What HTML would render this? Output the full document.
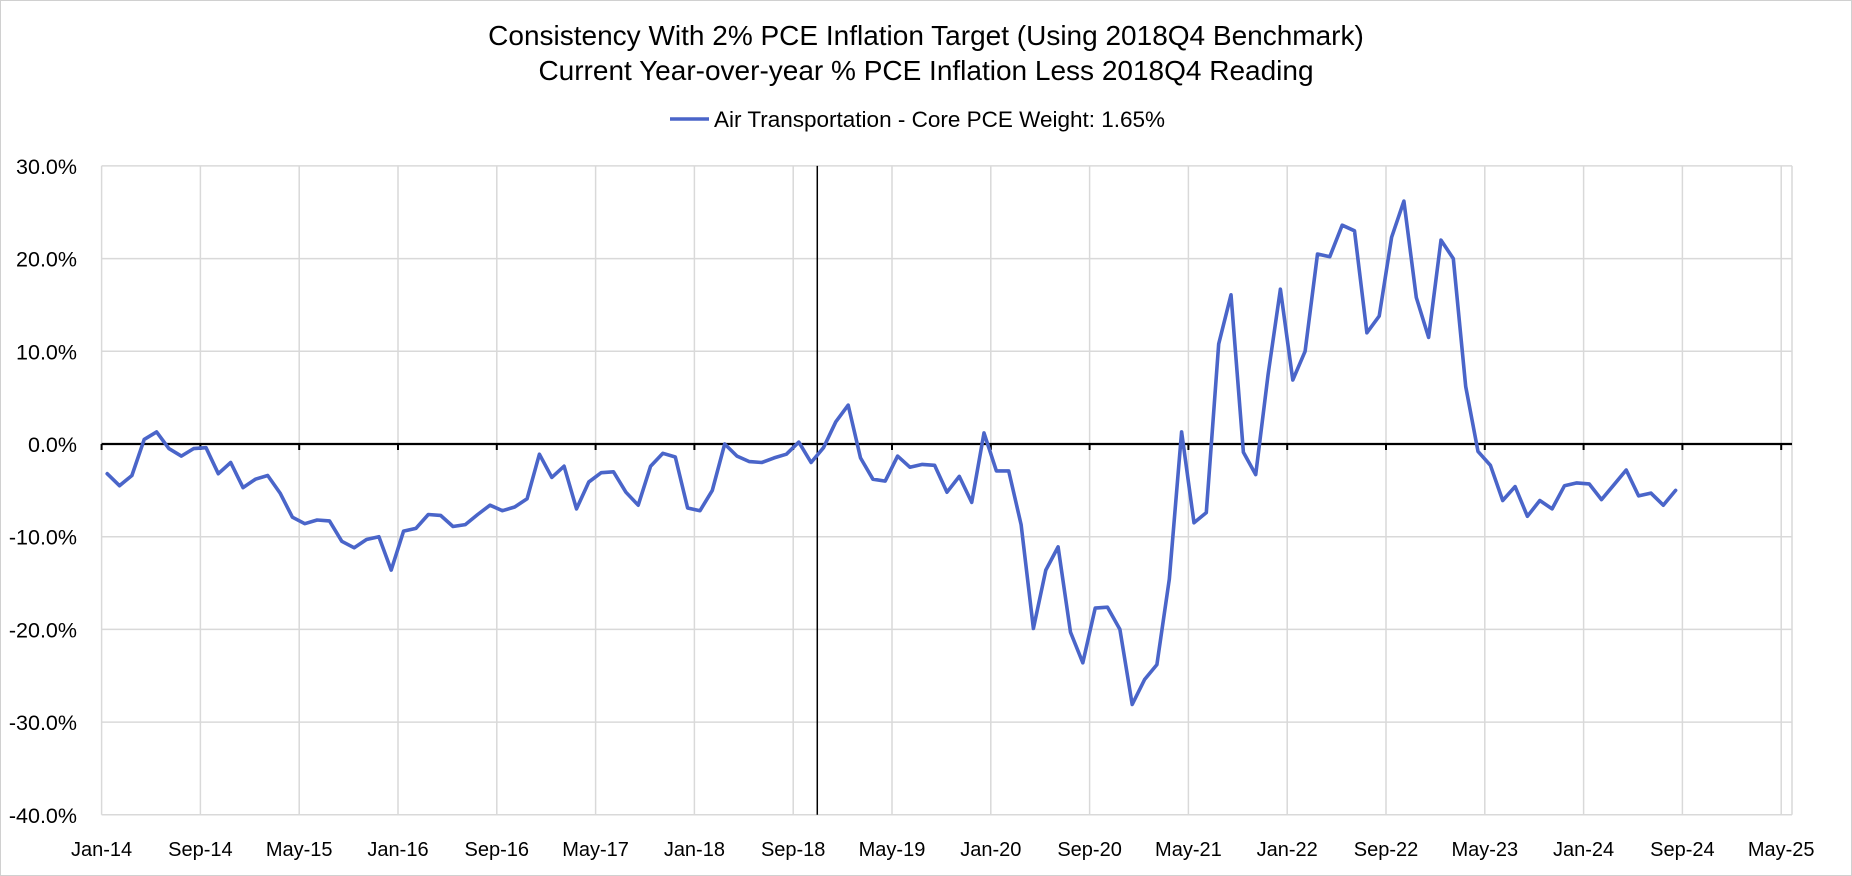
<!DOCTYPE html>
<html><head><meta charset="utf-8"><style>
html,body{margin:0;padding:0;background:#fff;}
svg{display:block;font-family:"Liberation Sans",sans-serif;}
</style></head><body>
<svg id="chart" width="1852" height="876" viewBox="0 0 1852 876" xmlns="http://www.w3.org/2000/svg">
<rect x="0.5" y="0.5" width="1851" height="875" fill="#fff" stroke="#d0d0d0"/>
<text x="926" y="45" text-anchor="middle" font-size="28" fill="#000">Consistency With 2% PCE Inflation Target (Using 2018Q4 Benchmark)</text>
<text x="926" y="80" text-anchor="middle" font-size="28" fill="#000">Current Year-over-year % PCE Inflation Less 2018Q4 Reading</text>
<g>
<line x1="670" y1="119" x2="709" y2="119" stroke="#4a65c9" stroke-width="3.5"/>
<text x="714" y="127" font-size="22.5" fill="#000">Air Transportation - Core PCE Weight: 1.65%</text>
</g>
<g id="grid"></g>
<g id="yaxis"></g>
<g id="xaxis"></g>
<g id="series"></g>
</svg>
<script>
const yTicks = [30, 20, 10, 0, -10, -20, -30, -40];
const xTickLabels = ["Jan-14","Sep-14","May-15","Jan-16","Sep-16","May-17","Jan-18","Sep-18","May-19","Jan-20","Sep-20","May-21","Jan-22","Sep-22","May-23","Jan-24","Sep-24","May-25"];
const benchmarkMonth = 57.5;
const airTransport = [
-3.2,-4.5,-3.4,0.5,1.3,-0.5,-1.3,-0.5,-0.4,-3.2,-2.0,-4.7,-3.8,-3.4,-5.3,-7.9,
-8.6,-8.2,-8.3,-10.5,-11.2,-10.3,-10.0,-13.6,-9.4,-9.1,-7.6,-7.7,-8.9,-8.7,-7.6,-6.6,
-7.2,-6.8,-5.9,-1.1,-3.6,-2.4,-7.0,-4.1,-3.1,-3.0,-5.2,-6.6,-2.4,-1.0,-1.4,-6.9,
-7.2,-5.0,0.0,-1.3,-1.9,-2.0,-1.5,-1.1,0.2,-2.0,-0.4,2.4,4.2,-1.5,-3.8,-4.0,
-1.3,-2.5,-2.2,-2.3,-5.2,-3.5,-6.3,1.2,-2.9,-2.9,-8.7,-19.9,-13.6,-11.1,-20.3,-23.6,
-17.7,-17.6,-20.0,-28.1,-25.4,-23.8,-14.6,1.3,-8.5,-7.4,10.8,16.1,-0.9,-3.3,7.5,16.7,
6.9,10.0,20.5,20.2,23.6,23.0,12.0,13.8,22.3,26.2,15.8,11.5,22.0,20.0,6.2,-0.8,
-2.3,-6.1,-4.6,-7.8,-6.1,-7.0,-4.5,-4.2,-4.3,-6.0,-4.4,-2.8,-5.6,-5.3,-6.6,-5.0
];
const NS = "http://www.w3.org/2000/svg";
const L = 101.6, R = 1792;
function yScale(v){ return 444 - v * 9.27; }
function xScale(m){ return 101.6 + 12.35 * (m + 0.45); }
function mk(tag, attrs, parent){ const e = document.createElementNS(NS, tag); for (const k in attrs) e.setAttribute(k, attrs[k]); parent.appendChild(e); return e; }
const grid = document.getElementById('grid');
const yaxis = document.getElementById('yaxis');
const xaxis = document.getElementById('xaxis');
const series = document.getElementById('series');
yTicks.forEach(v => {
  const y = yScale(v);
  if (v !== 0) {
    const g = mk('line', {x1:L, x2:R, y1:y, y2:y, stroke:'#d9d9d9', 'stroke-width':1.5}, grid);
    
    
  }
  const t = mk('text', {x:77, y:y+8, 'text-anchor':'end', 'font-size':21.5, fill:'#000'}, yaxis);
  t.textContent = v.toFixed(1) + '%';
  
  
});
xTickLabels.forEach((lab, k) => {
  const x = xScale(8 * k - 0.45);
  const g = mk('line', {x1:x, x2:x, y1:yScale(30), y2:yScale(-40), stroke:'#d9d9d9', 'stroke-width':1.5}, grid);
  
  
  const tk = mk('line', {x1:x, x2:x, y1:yScale(0), y2:yScale(0)+6, stroke:'#000', 'stroke-width':2}, xaxis);
  
  
  const t = mk('text', {x:x, y:856, 'text-anchor':'middle', 'font-size':20, fill:'#000'}, xaxis);
  t.textContent = lab;
  
  
});
const rg = mk('line', {x1:R, x2:R, y1:yScale(30), y2:yScale(-40), stroke:'#d9d9d9', 'stroke-width':1.5}, grid);


const zl = mk('line', {x1:L, x2:R, y1:yScale(0), y2:yScale(0), stroke:'#000', 'stroke-width':2.2}, xaxis);


const bx = xScale(benchmarkMonth);
const bl = mk('line', {x1:bx, x2:bx, y1:yScale(30), y2:yScale(-40), stroke:'#000', 'stroke-width':1.5}, series);


const pts = airTransport.map((v, i) => xScale(i).toFixed(1) + ',' + yScale(v).toFixed(1)).join(' ');
const pl = mk('polyline', {points:pts, fill:'none', stroke:'#4a65c9', 'stroke-width':3.6, 'stroke-linejoin':'round', 'stroke-linecap':'round'}, series);


</script>
</body></html>
